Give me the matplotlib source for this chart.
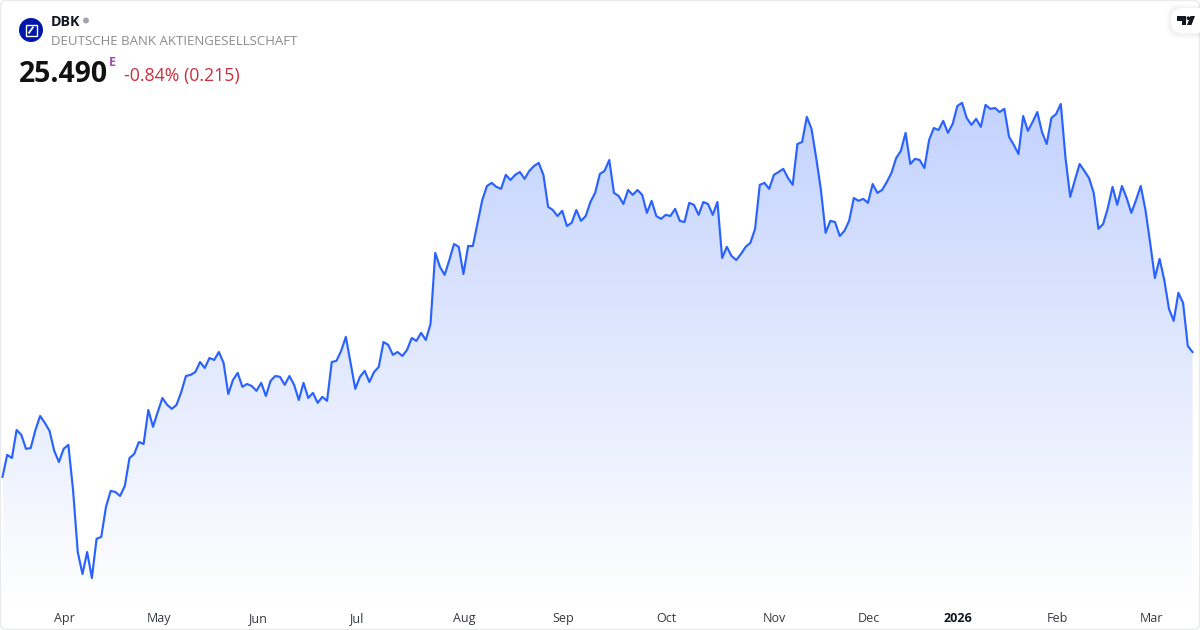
# DBK area chart, daily closes
import numpy as np
import matplotlib
matplotlib.use('Agg')
import matplotlib.pyplot as plt
from matplotlib.colors import LinearSegmentedColormap
from matplotlib.patches import Circle, FancyBboxPatch, Polygon, Rectangle

# Closing prices
closes = [
    21.12, 21.89, 21.78, 22.76, 22.59, 22.10, 22.13, 22.76, 23.25, 23.01, 22.73, 22.03, 21.64, 22.10, 22.24, 20.66,
    18.49, 17.72, 18.49, 17.58, 18.95, 19.02, 20.07, 20.63, 20.59, 20.45, 20.80, 21.78, 21.92, 22.34, 22.27, 23.46,
    22.87, 23.39, 23.88, 23.64, 23.50, 23.64, 24.09, 24.65, 24.69, 24.79, 25.14, 24.93, 25.28, 25.21, 25.49, 25.11,
    24.02, 24.51, 24.76, 24.27, 24.37, 24.30, 24.13, 24.41, 23.95, 24.48, 24.65, 24.62, 24.34, 24.65, 24.34, 23.81,
    24.41, 23.88, 24.06, 23.71, 23.92, 23.78, 25.14, 25.18, 25.53, 26.02, 25.11, 24.20, 24.62, 24.83, 24.44, 24.79,
    24.97, 25.84, 25.74, 25.39, 25.49, 25.35, 25.56, 25.98, 25.88, 26.16, 25.91, 26.47, 28.96, 28.47, 28.19, 28.71,
    29.27, 29.17, 28.22, 29.20, 29.20, 30.01, 30.81, 31.30, 31.41, 31.27, 31.20, 31.69, 31.51, 31.69, 31.79, 31.55,
    31.83, 32.00, 32.11, 31.69, 30.57, 30.46, 30.25, 30.43, 29.90, 30.01, 30.46, 30.08, 30.25, 30.74, 31.06, 31.72,
    31.83, 32.21, 31.06, 30.95, 30.67, 31.16, 30.99, 31.16, 30.99, 30.36, 30.78, 30.25, 30.15, 30.29, 30.25, 30.50,
    30.08, 30.04, 30.71, 30.64, 30.29, 30.74, 30.67, 30.29, 30.74, 28.78, 29.17, 28.85, 28.71, 28.92, 29.17, 29.31,
    29.80, 31.34, 31.41, 31.20, 31.69, 31.79, 31.90, 31.58, 31.34, 32.77, 32.84, 33.72, 33.30, 32.28, 31.16, 29.66,
    30.08, 30.04, 29.55, 29.73, 30.08, 30.88, 30.78, 30.85, 30.71, 31.37, 31.06, 31.16, 31.44, 31.76, 32.28, 32.53,
    33.16, 32.07, 32.25, 32.21, 31.93, 32.91, 33.33, 33.26, 33.58, 33.16, 33.47, 34.10, 34.21, 33.68, 33.44, 33.65,
    33.37, 34.14, 34.00, 34.03, 33.89, 34.00, 33.02, 32.74, 32.42, 33.75, 33.23, 33.54, 33.89, 33.19, 32.77, 33.68,
    33.82, 34.17, 32.28, 30.92, 31.51, 32.07, 31.83, 31.58, 31.06, 29.80, 29.97, 30.53, 31.27, 30.64, 31.30, 30.88,
    30.36, 30.81, 31.30, 30.46, 29.31, 28.08, 28.75, 28.01, 27.00, 26.58, 27.56, 27.21, 25.70, 25.49,
]
# session number of the first day of each month
month_sessions = [13, 33, 54, 75, 98, 119, 141, 164, 184, 203, 224, 244]
month_labels = ['Apr', 'May', 'Jun', 'Jul', 'Aug', 'Sep', 'Oct', 'Nov', 'Dec', '2026', 'Feb', 'Mar']

symbol = 'DBK'
company = 'DEUTSCHE BANK AKTIENGESELLSCHAFT'
last_price = '25.490'
change_text = '-0.84% (0.215)'

plt.rcParams['font.family'] = ['Open Sans', 'DejaVu Sans']

LINE_COLOR = '#2962ff'
W, H = 1200, 630
sessions = np.arange(len(closes))
step = (1192.5 - 2.5) / (len(closes) - 1)

fig = plt.figure(figsize=(W / 100, H / 100), dpi=100, facecolor='white')

# Price axes fill the whole figure
ax = fig.add_axes([0, 0, 1, 1])
ax.axis('off')

# Gradient under the line
fade = LinearSegmentedColormap.from_list('fade', ['#c3d2fe', '#ffffff'])
low = 37.81 - 0.035 * 605
high = 37.81 - 0.035 * 100
grad = ax.imshow(np.linspace(0, 1, 256).reshape(-1, 1), cmap=fade, aspect='auto',
                 extent=[sessions[0], sessions[-1], low, high], zorder=1)
ax.set_xlim(-2.5 / step, (W - 2.5) / step)
ax.set_ylim(37.81 - 0.035 * H, 37.81)
area = ax.fill_between(sessions, closes, low, color='none')
grad.set_clip_path(area.get_paths()[0], transform=ax.transData)
ax.plot(sessions, closes, color=LINE_COLOR, lw=1.55, solid_joinstyle='round', zorder=3)

# Month labels
for pos, lab in zip(month_sessions, month_labels):
    ax.text(pos + 0.2, 37.81 - 0.035 * 622, lab, ha='center', va='baseline', fontsize=9, color='#131722',
            fontweight='bold' if lab == '2026' else 'normal', alpha=0.85 if lab != '2026' else 1, zorder=4)

# Overlay in pixel units for the card frame, logos and header
top = fig.add_axes([0, 0, 1, 1], facecolor='none')
top.set_xlim(0, W)
top.set_ylim(H, 0)
top.axis('off')

top.add_patch(FancyBboxPatch((0.5, 0.5), W - 1, H - 1, boxstyle='round,pad=0,rounding_size=6',
                             fc='none', ec='#e9eaee', lw=0.9))

# Deutsche Bank logo
top.add_patch(Circle((31, 30), 12, fc='#0018a8', ec='none'))
top.add_patch(Rectangle((25.5, 24.5), 11, 11, fc='none', ec='white', lw=1.0))
top.plot([28.6, 33.4], [33.4, 26.6], color='white', lw=1.3, solid_capstyle='butt')

top.text(51, 26, symbol, fontsize=10.3, fontweight='bold', color='#131722', va='baseline')
top.add_patch(Circle((86, 20.5), 3, fc='#a3a6af', ec='none'))
top.text(51, 45, company, fontsize=9.5, color='#8c8c8c', va='baseline')
top.text(19, 82, last_price, fontsize=20.4, fontweight='bold', color='#111111', va='baseline')
top.text(109, 66, 'E', fontsize=9, fontweight='bold', color='#ab47bc', va='baseline')
top.text(124, 81, change_text, fontsize=12.8, color='#cc2f3c', va='baseline')

# TradingView badge with a soft shadow
for grow, shade in [(5, 0.012), (3.5, 0.016), (2, 0.02)]:
    top.add_patch(FancyBboxPatch((1171 - grow, 8 - grow + 1), 40 + 2 * grow, 25 + 2 * grow,
                                 boxstyle='round,pad=0,rounding_size=12', fc='black', ec='none',
                                 alpha=shade))
top.add_patch(FancyBboxPatch((1171, 8), 40, 25, boxstyle='round,pad=0,rounding_size=12', fc='white', ec='none'))
top.add_patch(Polygon([(1177, 16), (1186, 16), (1186, 25), (1181.5, 25), (1181.5, 20.5), (1177, 20.5)], fc='#131722', ec='none'))
top.add_patch(Circle((1188.3, 18.2), 1.8, fc='#131722', ec='none'))
top.add_patch(Polygon([(1190.5, 16), (1195, 16), (1191.5, 25), (1187, 25)], fc='#131722', ec='none'))

fig.savefig('out.png', dpi=100)
